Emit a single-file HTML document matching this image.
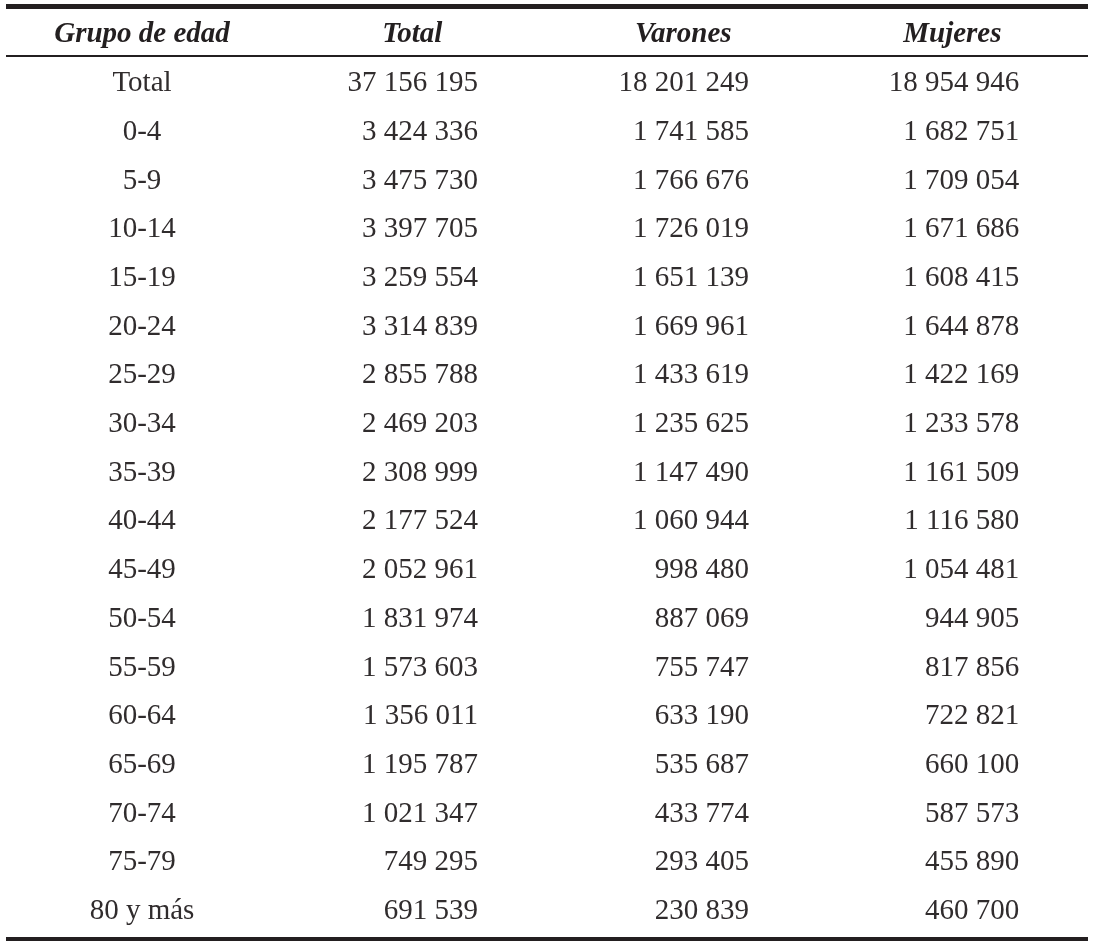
<!DOCTYPE html>
<html><head><meta charset="utf-8"><style>
html,body{margin:0;padding:0;background:#fff;}
body{width:1095px;height:949px;position:relative;overflow:hidden;font-family:"Liberation Serif",serif;color:#231f20;}
.c{position:absolute;height:0;line-height:0;white-space:pre;}
.c span{display:inline-block;line-height:normal;vertical-align:baseline;}
body{will-change:transform;}
.l{position:absolute;left:6px;width:1082px;background:#231f20;}
.ctr{transform:translateX(-50%);}
.rt{transform:translateX(-100%);}
.h{font-weight:bold;font-style:italic;color:#231f20;}
.d{color:#302c2d;}
</style></head><body>

<div class="l" style="top:4px;height:5px"></div>
<div class="l" style="top:55px;height:2px"></div>
<div class="l" style="top:937px;height:4px"></div>
<div class="c h ctr" style="left:142px;top:16.20px;font-size:29px"><span>Grupo de edad</span></div>
<div class="c h ctr" style="left:412.3px;top:16.20px;font-size:29px"><span>Total</span></div>
<div class="c h ctr" style="left:683.3px;top:16.20px;font-size:29px"><span>Varones</span></div>
<div class="c h ctr" style="left:952.4px;top:16.20px;font-size:29px"><span>Mujeres</span></div>
<div class="c ctr d" style="left:142px;top:65.10px;font-size:29px"><span>Total</span></div>
<div class="c rt d" style="left:478px;top:65.10px;font-size:29px"><span>37 156 195</span></div>
<div class="c rt d" style="left:749px;top:65.10px;font-size:29px"><span>18 201 249</span></div>
<div class="c rt d" style="left:1019.3px;top:65.10px;font-size:29px"><span>18 954 946</span></div>
<div class="c ctr d" style="left:142px;top:113.81px;font-size:29px"><span>0-4</span></div>
<div class="c rt d" style="left:478px;top:113.81px;font-size:29px"><span>3 424 336</span></div>
<div class="c rt d" style="left:749px;top:113.81px;font-size:29px"><span>1 741 585</span></div>
<div class="c rt d" style="left:1019.3px;top:113.81px;font-size:29px"><span>1 682 751</span></div>
<div class="c ctr d" style="left:142px;top:162.52px;font-size:29px"><span>5-9</span></div>
<div class="c rt d" style="left:478px;top:162.52px;font-size:29px"><span>3 475 730</span></div>
<div class="c rt d" style="left:749px;top:162.52px;font-size:29px"><span>1 766 676</span></div>
<div class="c rt d" style="left:1019.3px;top:162.52px;font-size:29px"><span>1 709 054</span></div>
<div class="c ctr d" style="left:142px;top:211.23px;font-size:29px"><span>10-14</span></div>
<div class="c rt d" style="left:478px;top:211.23px;font-size:29px"><span>3 397 705</span></div>
<div class="c rt d" style="left:749px;top:211.23px;font-size:29px"><span>1 726 019</span></div>
<div class="c rt d" style="left:1019.3px;top:211.23px;font-size:29px"><span>1 671 686</span></div>
<div class="c ctr d" style="left:142px;top:259.94px;font-size:29px"><span>15-19</span></div>
<div class="c rt d" style="left:478px;top:259.94px;font-size:29px"><span>3 259 554</span></div>
<div class="c rt d" style="left:749px;top:259.94px;font-size:29px"><span>1 651 139</span></div>
<div class="c rt d" style="left:1019.3px;top:259.94px;font-size:29px"><span>1 608 415</span></div>
<div class="c ctr d" style="left:142px;top:308.65px;font-size:29px"><span>20-24</span></div>
<div class="c rt d" style="left:478px;top:308.65px;font-size:29px"><span>3 314 839</span></div>
<div class="c rt d" style="left:749px;top:308.65px;font-size:29px"><span>1 669 961</span></div>
<div class="c rt d" style="left:1019.3px;top:308.65px;font-size:29px"><span>1 644 878</span></div>
<div class="c ctr d" style="left:142px;top:357.36px;font-size:29px"><span>25-29</span></div>
<div class="c rt d" style="left:478px;top:357.36px;font-size:29px"><span>2 855 788</span></div>
<div class="c rt d" style="left:749px;top:357.36px;font-size:29px"><span>1 433 619</span></div>
<div class="c rt d" style="left:1019.3px;top:357.36px;font-size:29px"><span>1 422 169</span></div>
<div class="c ctr d" style="left:142px;top:406.07px;font-size:29px"><span>30-34</span></div>
<div class="c rt d" style="left:478px;top:406.07px;font-size:29px"><span>2 469 203</span></div>
<div class="c rt d" style="left:749px;top:406.07px;font-size:29px"><span>1 235 625</span></div>
<div class="c rt d" style="left:1019.3px;top:406.07px;font-size:29px"><span>1 233 578</span></div>
<div class="c ctr d" style="left:142px;top:454.78px;font-size:29px"><span>35-39</span></div>
<div class="c rt d" style="left:478px;top:454.78px;font-size:29px"><span>2 308 999</span></div>
<div class="c rt d" style="left:749px;top:454.78px;font-size:29px"><span>1 147 490</span></div>
<div class="c rt d" style="left:1019.3px;top:454.78px;font-size:29px"><span>1 161 509</span></div>
<div class="c ctr d" style="left:142px;top:503.49px;font-size:29px"><span>40-44</span></div>
<div class="c rt d" style="left:478px;top:503.49px;font-size:29px"><span>2 177 524</span></div>
<div class="c rt d" style="left:749px;top:503.49px;font-size:29px"><span>1 060 944</span></div>
<div class="c rt d" style="left:1019.3px;top:503.49px;font-size:29px"><span>1 116 580</span></div>
<div class="c ctr d" style="left:142px;top:552.20px;font-size:29px"><span>45-49</span></div>
<div class="c rt d" style="left:478px;top:552.20px;font-size:29px"><span>2 052 961</span></div>
<div class="c rt d" style="left:749px;top:552.20px;font-size:29px"><span>998 480</span></div>
<div class="c rt d" style="left:1019.3px;top:552.20px;font-size:29px"><span>1 054 481</span></div>
<div class="c ctr d" style="left:142px;top:600.91px;font-size:29px"><span>50-54</span></div>
<div class="c rt d" style="left:478px;top:600.91px;font-size:29px"><span>1 831 974</span></div>
<div class="c rt d" style="left:749px;top:600.91px;font-size:29px"><span>887 069</span></div>
<div class="c rt d" style="left:1019.3px;top:600.91px;font-size:29px"><span>944 905</span></div>
<div class="c ctr d" style="left:142px;top:649.62px;font-size:29px"><span>55-59</span></div>
<div class="c rt d" style="left:478px;top:649.62px;font-size:29px"><span>1 573 603</span></div>
<div class="c rt d" style="left:749px;top:649.62px;font-size:29px"><span>755 747</span></div>
<div class="c rt d" style="left:1019.3px;top:649.62px;font-size:29px"><span>817 856</span></div>
<div class="c ctr d" style="left:142px;top:698.33px;font-size:29px"><span>60-64</span></div>
<div class="c rt d" style="left:478px;top:698.33px;font-size:29px"><span>1 356 011</span></div>
<div class="c rt d" style="left:749px;top:698.33px;font-size:29px"><span>633 190</span></div>
<div class="c rt d" style="left:1019.3px;top:698.33px;font-size:29px"><span>722 821</span></div>
<div class="c ctr d" style="left:142px;top:747.04px;font-size:29px"><span>65-69</span></div>
<div class="c rt d" style="left:478px;top:747.04px;font-size:29px"><span>1 195 787</span></div>
<div class="c rt d" style="left:749px;top:747.04px;font-size:29px"><span>535 687</span></div>
<div class="c rt d" style="left:1019.3px;top:747.04px;font-size:29px"><span>660 100</span></div>
<div class="c ctr d" style="left:142px;top:795.75px;font-size:29px"><span>70-74</span></div>
<div class="c rt d" style="left:478px;top:795.75px;font-size:29px"><span>1 021 347</span></div>
<div class="c rt d" style="left:749px;top:795.75px;font-size:29px"><span>433 774</span></div>
<div class="c rt d" style="left:1019.3px;top:795.75px;font-size:29px"><span>587 573</span></div>
<div class="c ctr d" style="left:142px;top:844.46px;font-size:29px"><span>75-79</span></div>
<div class="c rt d" style="left:478px;top:844.46px;font-size:29px"><span>749 295</span></div>
<div class="c rt d" style="left:749px;top:844.46px;font-size:29px"><span>293 405</span></div>
<div class="c rt d" style="left:1019.3px;top:844.46px;font-size:29px"><span>455 890</span></div>
<div class="c ctr d" style="left:142px;top:893.17px;font-size:29px"><span>80 y más</span></div>
<div class="c rt d" style="left:478px;top:893.17px;font-size:29px"><span>691 539</span></div>
<div class="c rt d" style="left:749px;top:893.17px;font-size:29px"><span>230 839</span></div>
<div class="c rt d" style="left:1019.3px;top:893.17px;font-size:29px"><span>460 700</span></div>
</body></html>
